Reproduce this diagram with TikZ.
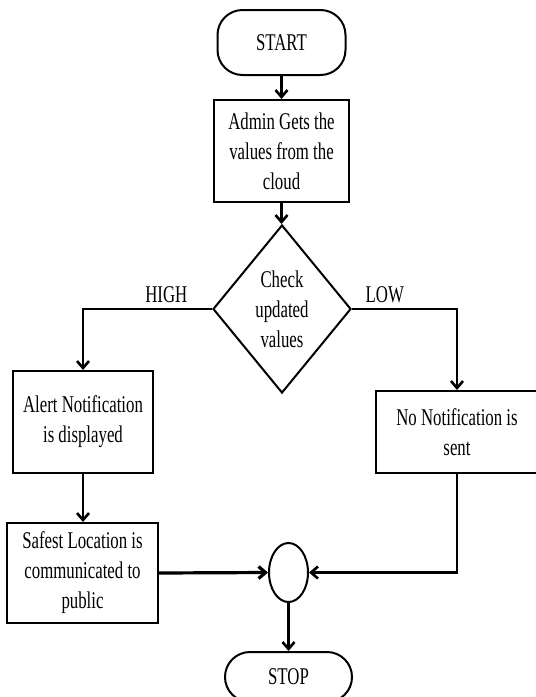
\documentclass[tikz,border=0pt]{standalone}
\usepackage{fontspec}
\setmainfont{Liberation Serif}[FakeStretch=0.70]
\usetikzlibrary{arrows.meta,shapes.geometric}
\begin{document}
\begin{tikzpicture}[x=1pt,y=-1pt,
  every node/.style={font=\fontsize{24}{30}\selectfont, text=black, align=center},
  box/.style={draw, line width=2pt, inner sep=0pt},
  term/.style={box, rounded corners=25pt},
  conn/.style={line width=2.6pt, -{Straight Barb[length=7pt,width=12pt]}},
  thickconn/.style={conn, line width=3.2pt},
  lbl/.style={inner sep=0pt}]
\useasboundingbox (0,0) rectangle (536,697);
\node[term, minimum width=128pt, minimum height=65pt] (start) at (281.5,42.5) {START};
\node[box, minimum width=135pt, minimum height=102pt] (admin) at (281.5,151) {Admin Gets the\\values from the\\cloud};
\node[draw, diamond, line width=2pt, minimum width=138pt, minimum height=168pt, inner sep=0pt] (dia) at (282,309) {};
\node (diat) at (dia.center) {Check\\updated\\values};
\node[box, minimum width=140pt, minimum height=102pt] (alert) at (83,422) {Alert Notification\\is displayed};
\node[box, minimum width=162pt, minimum height=82pt] (nonot) at (457,432) {No Notification is\\sent};
\node[box, minimum width=151pt, minimum height=100pt] (safe) at (82.5,573) {Safest Location is\\communicated to\\public};
\node[draw, ellipse, line width=2pt, minimum width=39pt, minimum height=59pt, inner sep=0pt] (join) at (288.5,572.5) {};
\node[term, minimum width=127pt, minimum height=50pt] (stop) at (288.5,677) {STOP};

\draw[conn] (start.south) -- (admin.north);
\draw[conn] (admin.south) -- (admin.south |- dia.north);
\draw[conn] (dia.west) -| node[lbl, pos=0.177, yshift=14pt] {HIGH} (alert.north);
\draw[conn] (dia.east) -| node[lbl, pos=0.156, yshift=14pt] {LOW} (nonot.north);
\draw[conn] (alert.south) -- (alert.south |- safe.north);
\draw[thickconn] (safe.east) -- (join.west);
\draw[conn] (nonot.south) |- (join.east);
\draw[conn] (join.south) -- (stop.north);
\end{tikzpicture}
\end{document}
